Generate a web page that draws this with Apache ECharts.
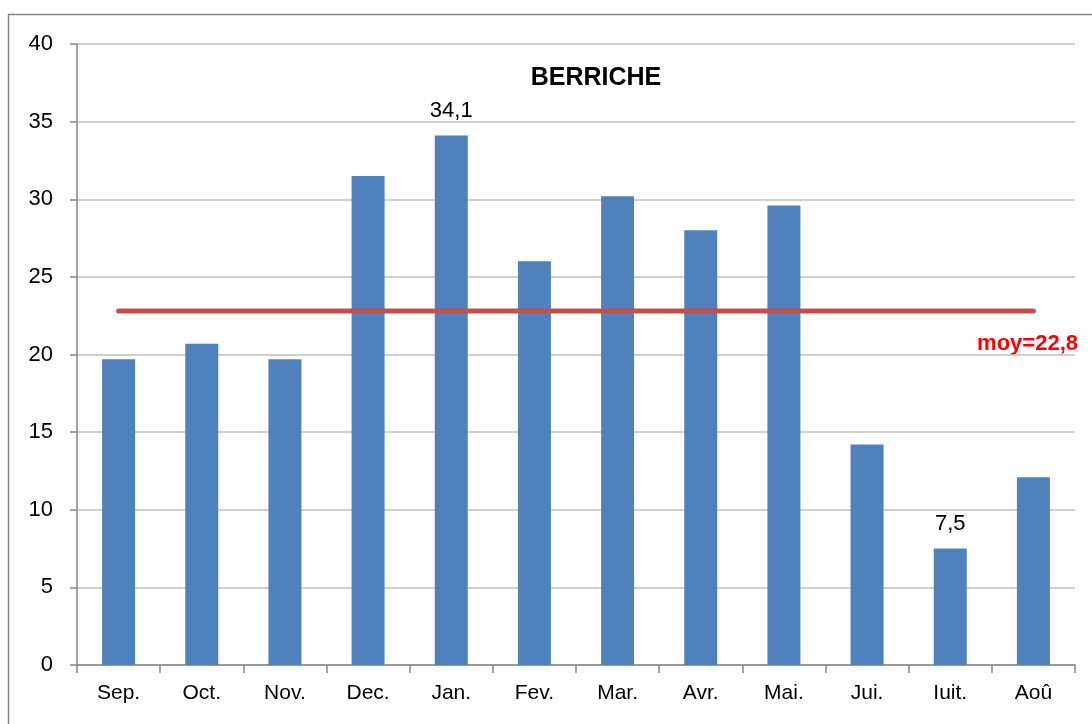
<!DOCTYPE html>
<html>
<head>
<meta charset="utf-8">
<script src="https://cdn.jsdelivr.net/npm/echarts@6/dist/echarts.min.js"></script>
<style>
  html, body { margin: 0; padding: 0; background: #fff; }
  #main { width: 1092px; height: 724px; }
</style>
</head>
<body>
<div id="main"></div>
<script>
var months = ['Sep.', 'Oct.', 'Nov.', 'Dec.', 'Jan.', 'Fev.', 'Mar.', 'Avr.', 'Mai.', 'Jui.', 'Iuit.', 'Aoû'];
var rain = [19.7, 20.7, 19.7, 31.5, 34.1, 26.0, 30.2, 28.0, 29.6, 14.2, 7.5, 12.1];
var labelled = [4, 10]; // only max and min get a value label
var moyenne = 22.8;
var yTicks = [0, 5, 10, 15, 20, 25, 30, 35, 40];

(function() {
  var FONT = '"Liberation Sans", Arial, sans-serif';
  var myChart = echarts.init(document.getElementById('main'));

  var barData = rain.map(function(v, i) {
    var item = { value: v };
    if (labelled.indexOf(i) >= 0) {
      item.label = {
        show: true,
        position: 'top',
        distance: 14,
        formatter: function(p) { return String(p.value.toFixed(1)).replace('.', ','); },
        color: '#000',
        fontSize: 22,
        fontFamily: FONT
      };
    }
    return item;
  });
  var moyLine = months.map(function() { return moyenne; });

  var option = {
    animation: false,
    title: {
      text: 'BERRICHE',
      left: 591,
      top: 61,
      textAlign: 'center',
      textStyle: { fontSize: 25, fontWeight: 'bold', color: '#000', fontFamily: FONT }
    },
    grid: { left: 77, right: 17, top: 44, bottom: 59, containLabel: false },
    xAxis: {
      type: 'category',
      data: months,
      axisLine: { lineStyle: { color: '#868686', width: 1.5 } },
      axisTick: { show: true, length: 8, lineStyle: { color: '#868686', width: 1.5 } },
      axisLabel: { color: '#000', fontSize: 21, fontFamily: FONT, margin: 18 }
    },
    yAxis: {
      type: 'value',
      min: yTicks[0],
      max: yTicks[yTicks.length - 1],
      interval: 5,
      axisLine: { show: true, lineStyle: { color: '#868686', width: 1.5 } },
      axisTick: { show: true, length: 7, lineStyle: { color: '#868686', width: 1.5 } },
      axisLabel: { color: '#000', fontSize: 22, fontFamily: FONT, margin: 24 },
      splitLine: { lineStyle: { color: '#bfbfbf', width: 1.5 } }
    },
    series: [{
      name: 'pluie',
      type: 'bar',
      data: barData,
      barWidth: 33,
      itemStyle: { color: '#4f81bd' }
    }, {
      name: 'moyenne',
      type: 'line',
      data: moyLine,
      symbol: 'none',
      lineStyle: { color: '#c0504d', width: 5, cap: 'round' },
      z: 5
    }],
    graphic: [{
      type: 'rect',
      shape: { x: 8.5, y: 14.5, width: 1200, height: 800 },
      style: { fill: 'none', stroke: '#868686', lineWidth: 1.5 },
      silent: true
    }, {
      type: 'text',
      right: 14,
      top: 333,
      style: { text: 'moy=22,8', fill: '#ff0000', font: 'bold 22px ' + FONT }
    }]
  };
  myChart.setOption(option);
})();
</script>
</body>
</html>
